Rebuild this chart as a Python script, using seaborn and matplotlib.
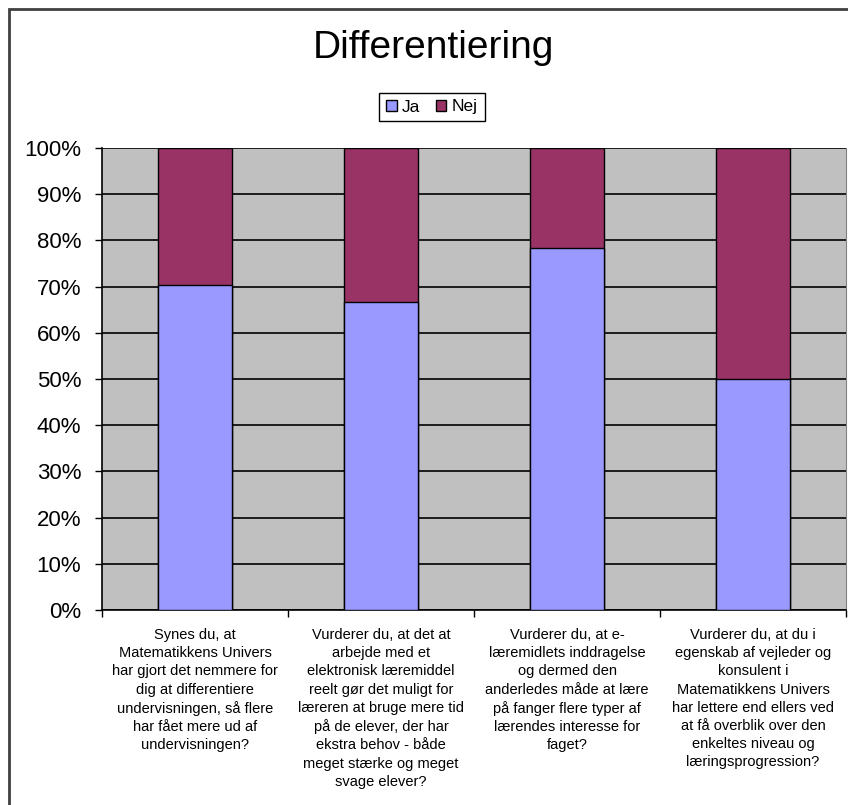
import pandas as pd
import seaborn as sns
import matplotlib.pyplot as plt
from matplotlib.patches import Patch, Rectangle
from matplotlib.ticker import FixedLocator, PercentFormatter

JA_COLOR = '#9999ff'
NEJ_COLOR = '#993366'

questions = [
    "Synes du, at\nMatematikkens Univers\nhar gjort det nemmere for\ndig at differentiere\nundervisningen, så flere\nhar fået mere ud af\nundervisningen?",
    "Vurderer du, at det at\narbejde med et\nelektronisk læremiddel\nreelt gør det muligt for\nlæreren at bruge mere tid\npå de elever, der har\nekstra behov - både\nmeget stærke og meget\nsvage elever?",
    "Vurderer du, at e-\nlæremidlets inddragelse\nog dermed den\nanderledes måde at lære\npå fanger flere typer af\nlærendes interesse for\nfaget?",
    "Vurderer du, at du i\negenskab af vejleder og\nkonsulent i\nMatematikkens Univers\nhar lettere end ellers ved\nat få overblik over den\nenkeltes niveau og\nlæringsprogression?",
]
ja = [70.4, 66.7, 78.3, 50.0]
nej = [29.6, 33.3, 21.7, 50.0]

df = pd.DataFrame({'q': list(range(len(questions))), 'Ja': ja, 'Nej': nej})
df['total'] = df['Ja'] + df['Nej']

plt.rcParams['font.family'] = ['Liberation Sans', 'DejaVu Sans']

fig = plt.figure(figsize=(8.48, 8.05), dpi=100)
ax = fig.add_axes([102 / 848, 1 - 610 / 805, 744 / 848, 462 / 805])
ax.set_facecolor('#c0c0c0')

# outer chart border (only left and top visible)
fig.patches.append(Rectangle((9 / 848, -0.05), 1.2, 1 - 9 / 805 + 0.05,
                             transform=fig.transFigure, fill=False,
                             edgecolor='#404040', linewidth=2))

sns.barplot(data=df, x='q', y='total', color=NEJ_COLOR, width=0.4,
            edgecolor='black', linewidth=1, saturation=1, ax=ax, zorder=3)
sns.barplot(data=df, x='q', y='Ja', color=JA_COLOR, width=0.4,
            edgecolor='black', linewidth=1, saturation=1, ax=ax, zorder=4)

ax.set_ylim(0, 100)
ax.set_xlim(-0.5, len(questions) - 0.5)
ax.set_yticks(range(0, 101, 10))
ax.yaxis.set_major_formatter(PercentFormatter(decimals=0))
ax.grid(axis='y', color='black', linewidth=1.2, zorder=1)
ax.set_axisbelow(True)

ax.set_xticks(range(len(questions)))
ax.set_xticklabels(questions, fontsize=10.5, linespacing=1.38, va='top')
ax.xaxis.set_minor_locator(FixedLocator([i - 0.5 for i in range(len(questions) + 1)]))
ax.tick_params(axis='x', which='major', length=0, pad=13)
ax.tick_params(axis='x', which='minor', length=5, width=1, color='black')
ax.tick_params(axis='y', length=5, width=1, labelsize=16, pad=10)

ax.set_xlabel('')
ax.set_ylabel('')
for side in ['left', 'bottom']:
    ax.spines[side].set_color('black')
    ax.spines[side].set_linewidth(1.2)
ax.spines['top'].set_visible(False)
ax.spines['right'].set_color('#808080')

fig.text(433 / 848, 1 - 48 / 805, 'Differentiering', ha='center', va='center', fontsize=28)

handles = [Patch(facecolor=JA_COLOR, edgecolor='black', label='Ja'),
           Patch(facecolor=NEJ_COLOR, edgecolor='black', label='Nej')]
fig.legend(handles=handles, loc='center', bbox_to_anchor=(432 / 848, 1 - 107 / 805),
           ncol=2, fontsize=12.5, frameon=True, fancybox=False, edgecolor='black',
           framealpha=1, handlelength=0.6, handleheight=0.6, handletextpad=0.3,
           columnspacing=0.9, borderpad=0.4)

fig.savefig('out.png', dpi=100)
